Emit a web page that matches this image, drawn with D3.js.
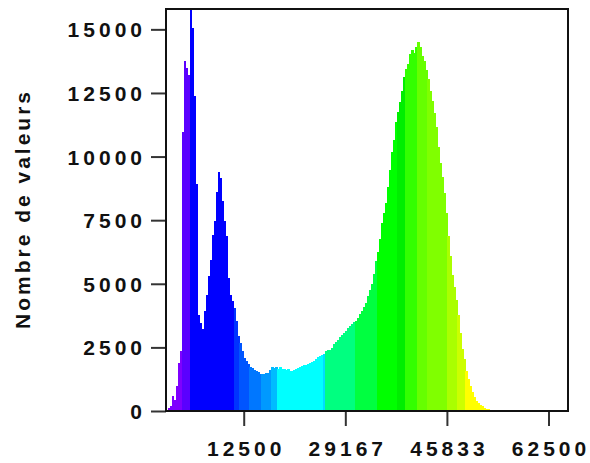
<!DOCTYPE html>
<html>
<head>
<meta charset="utf-8">
<script src="https://cdn.jsdelivr.net/npm/d3@7/dist/d3.min.js"></script>
<style>
  html, body { margin: 0; padding: 0; background: #fff; }
  svg { display: block; }
  .tick text { font-family: "Liberation Sans", Arial, sans-serif; font-weight: bold; font-size: 21px; letter-spacing: 4px; fill: #111; }
</style>
</head>
<body>
<svg id="chart" width="590" height="463"></svg>
<script>
// ---- data ----
const binWidth = 328;
const counts = [
  120, 200, 590, 430, 980, 1890, 2360, 10950, 13750, 13500,
  13190, 15800, 15070, 12370, 8940, 3780, 3460, 3210, 3940, 4570,
  5290, 5945, 6930, 7450, 8600, 9380, 9170, 8240, 7450, 6860,
  5240, 4570, 4330, 4050, 3520, 2930, 2680, 2340, 2090, 1970,
  1850, 1730, 1700, 1615, 1575, 1550, 1460, 1460, 1460, 1500,
  1500, 1615, 1730, 1690, 1730, 1650, 1730, 1660, 1640, 1620,
  1660, 1580, 1570, 1600, 1650, 1700, 1730, 1770, 1810, 1820,
  1860, 1900, 1940, 1980, 2050, 2130, 2170, 2200, 2250, 2360,
  2380, 2400, 2480, 2640, 2720, 2800, 2910, 2990, 3070, 3150,
  3270, 3350, 3430, 3500, 3540, 3660, 3820, 3940, 4090, 4250,
  4530, 4760, 5000, 5390, 5900, 6260, 6770, 7400, 7790, 8190,
  8820, 9490, 10160, 10670, 11340, 11770, 12130, 12560, 13110, 13430,
  13620, 14020, 14170, 14090, 14290, 14490, 14290, 13940, 13740, 13390,
  13030, 12560, 12170, 11730, 11180, 10390, 9760, 9210, 8580, 7800,
  6890, 6100, 5350, 4880, 4370, 3780, 3070, 2440, 2050, 1570,
  1260, 980, 750, 550, 390, 310, 240, 200, 120, 80, 60
];
const colorThresholds = [2296, 3608, 10824, 11808, 13448, 15416, 17056, 18040, 25584, 25912,
  30832, 34440, 37720, 39032, 41000, 42640, 45920, 47560, 48872];
const colorRange = ["#7f00ff", "#5a00ff", "#0000ff", "#0033ff", "#0055ff", "#0077ff", "#0099ff", "#00bbff",
  "#00ffff", "#00ddff", "#00ff80", "#00ff40", "#00ff00", "#00ee00", "#33ff00", "#66ff00",
  "#80ff00", "#aaff00", "#ccff00", "#ffff00"];
const xTickValues = [12500, 29167, 45833, 62500];
const yTickValues = [0, 2500, 5000, 7500, 10000, 12500, 15000];
const yTitle = "Nombre de valeurs";

const bins = counts.map((c, i) => ({ x0: i * binWidth, x1: (i + 1) * binWidth, count: c }));

// ---- chart ----
const svg = d3.select("#chart");
const pLeft = 166, pRight = 568, pTop = 9, pBottom = 411;

const x = d3.scaleLinear().domain([-250, 65700]).range([pLeft, pRight]);
const y = d3.scaleLinear().domain([0, 15800]).range([pBottom, pTop]);
const color = d3.scaleThreshold().domain(colorThresholds).range(colorRange);

svg.append("defs").append("clipPath").attr("id", "plotclip")
  .append("rect").attr("x", pLeft).attr("y", pTop).attr("width", pRight - pLeft).attr("height", pBottom - pTop);

svg.append("g").attr("clip-path", "url(#plotclip)")
  .selectAll("rect").data(bins).join("rect")
  .attr("x", d => x(d.x0))
  .attr("width", d => x(d.x1) - x(d.x0) + 0.6)
  .attr("y", d => y(d.count))
  .attr("height", d => y(0) - y(d.count))
  .attr("fill", d => color(d.x0))
  .attr("shape-rendering", "crispEdges");

// axes
const yAxis = d3.axisLeft(y).tickValues(yTickValues).tickSize(15).tickPadding(5).tickFormat(d3.format("d"));
const gy = svg.append("g").attr("transform", `translate(${pLeft},0)`).call(yAxis);
gy.select(".domain").remove();
gy.selectAll(".tick line").attr("stroke", "#333").attr("stroke-width", 2);
gy.selectAll(".tick text").attr("dy", "0.36em").attr("x", -20);

const xAxis = d3.axisBottom(x).tickValues(xTickValues).tickSize(15).tickPadding(15).tickFormat(d3.format("d"));
const gx = svg.append("g").attr("transform", `translate(0,${pBottom})`).call(xAxis);
gx.select(".domain").remove();
gx.selectAll(".tick line").attr("stroke", "#333").attr("stroke-width", 2);
gx.selectAll(".tick text").attr("dx", 2);

// frame
svg.append("rect").attr("x", pLeft).attr("y", pTop).attr("width", pRight - pLeft).attr("height", pBottom - pTop)
  .attr("fill", "none").attr("stroke", "#111").attr("stroke-width", 2);

// y title
svg.append("text")
  .attr("transform", `translate(23,${(85 + 333) / 2}) rotate(-90)`)
  .attr("text-anchor", "middle")
  .attr("dy", "0.35em")
  .style("font-family", "'Liberation Sans', Arial, sans-serif")
  .style("font-weight", "bold")
  .style("font-size", "21px")
  .style("letter-spacing", "3px")
  .attr("fill", "#111")
  .text(yTitle);
</script>
</body>
</html>
